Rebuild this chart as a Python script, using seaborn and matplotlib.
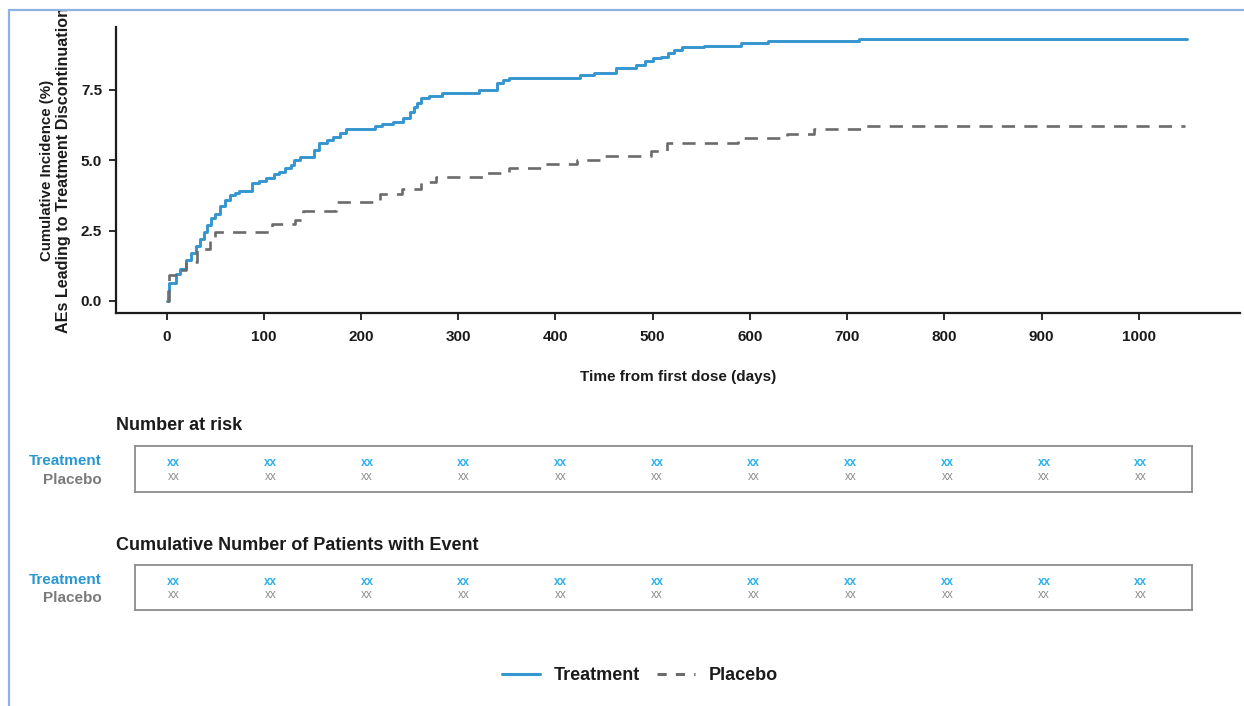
import numpy as np
import pandas as pd
import matplotlib
matplotlib.use("Agg")
import matplotlib.pyplot as plt
from matplotlib.lines import Line2D
from matplotlib.transforms import Bbox, TransformedBbox
import seaborn as sns

# ---------------- data ----------------
trt_days = [0, 1, 3, 10, 14, 20, 25, 30, 34, 38, 42, 46, 50, 55, 60, 65, 70, 74,
            88, 95, 102, 110, 116, 122, 128, 131, 137, 152, 157, 165, 171, 178,
            185, 214, 222, 233, 243, 250, 254, 258, 262, 270, 283, 293, 321, 340,
            346, 352, 425, 440, 462, 483, 492, 500, 509, 516, 522, 530, 553, 591,
            619, 712, 1049]
trt_cum = [0.00, 0.35, 0.63, 0.95, 1.15, 1.46, 1.70, 1.95, 2.20, 2.45, 2.70, 2.95,
           3.10, 3.38, 3.58, 3.75, 3.85, 3.91, 4.18, 4.25, 4.36, 4.50, 4.60, 4.72,
           4.85, 5.01, 5.13, 5.35, 5.60, 5.72, 5.84, 5.96, 6.10, 6.22, 6.30, 6.37,
           6.52, 6.70, 6.91, 7.05, 7.20, 7.30, 7.38, 7.41, 7.50, 7.74, 7.85, 7.92,
           8.03, 8.09, 8.29, 8.39, 8.54, 8.62, 8.69, 8.80, 8.92, 9.02, 9.08, 9.16,
           9.24, 9.30, 9.30]

pbo_days = [0, 2, 12, 20, 31, 45, 50, 108, 132, 140, 174, 220, 242, 262, 277, 330,
            352, 386, 422, 448, 498, 515, 588, 638, 666, 717, 1047]
pbo_cum = [0.00, 0.92, 1.10, 1.40, 1.84, 2.29, 2.44, 2.74, 2.88, 3.21, 3.51, 3.80,
           3.97, 4.24, 4.42, 4.56, 4.72, 4.87, 5.01, 5.17, 5.33, 5.60, 5.78, 5.94,
           6.10, 6.23, 6.23]

groups = ["Treatment", "Placebo"]
table_days = [0, 100, 200, 300, 400, 500, 600, 700, 800, 900, 1000]
risk_trt = ["xx", "xx", "xx", "xx", "xx", "xx", "xx", "xx", "xx", "xx", "xx"]
risk_pbo = ["xx", "xx", "xx", "xx", "xx", "xx", "xx", "xx", "xx", "xx", "xx"]
event_trt = ["xx", "xx", "xx", "xx", "xx", "xx", "xx", "xx", "xx", "xx", "xx"]
event_pbo = ["xx", "xx", "xx", "xx", "xx", "xx", "xx", "xx", "xx", "xx", "xx"]

x_ticks = [0, 100, 200, 300, 400, 500, 600, 700, 800, 900, 1000]
y_ticks = [0.0, 2.5, 5.0, 7.5]
y_tick_labels = ["0.0", "2.5", "5.0", "7.5"]
y_label_lines = ["Cumulative Incidence (%)", "AEs Leading to Treatment Discontinuation"]

# ---------------- styling ----------------
sns.set_style("ticks")
plt.rcParams["font.family"] = ["Liberation Sans", "DejaVu Sans"]

C_TRT = "#3595cf"
C_TRT_TXT = "#2a97d3"
C_TRT_XX = "#2cb0ee"
C_PBO = "#6b6b6b"
C_PBO_TXT = "#7a7a7a"
C_PBO_XX = "#8f8f8f"
C_TXT = "#1b1b1b"
PBO_DASH = (0, (5, 3.5))

W, H = 1244, 706
fig = plt.figure(figsize=(W / 100, H / 100), dpi=100)


def fx(px):
    return px / W


def fy(py):
    return 1 - py / H


# ---------------- main cumulative incidence plot ----------------
ax = fig.add_axes([fx(116), fy(313), fx(1240) - fx(116), fy(27) - fy(313)])

df_trt = pd.DataFrame({"day": trt_days, "cum": trt_cum})
df_pbo = pd.DataFrame({"day": pbo_days, "cum": pbo_cum})
sns.lineplot(data=df_trt, x="day", y="cum", ax=ax, color=C_TRT, lw=2.1,
             drawstyle="steps-post", estimator=None)
sns.lineplot(data=df_pbo, x="day", y="cum", ax=ax, color=C_PBO, lw=1.9,
             drawstyle="steps-post", estimator=None, linestyle=PBO_DASH)

ax.set_xlim(-52, 1104)
ax.set_ylim(-0.43, 9.74)
ax.set_xticks(x_ticks)
ax.set_xticklabels([str(t) for t in x_ticks])
ax.set_yticks(y_ticks)
ax.set_yticklabels(y_tick_labels)
for lab in ax.get_xticklabels() + ax.get_yticklabels():
    lab.set_fontweight("bold")
    lab.set_fontsize(11)
    lab.set_color(C_TXT)
ax.tick_params(axis="both", length=5, width=1.3, color="#1b1b1b", pad=5)
ax.tick_params(axis="x", pad=7)
for s in ["top", "right"]:
    ax.spines[s].set_visible(False)
for s in ["left", "bottom"]:
    ax.spines[s].set_linewidth(1.6)
    ax.spines[s].set_color("#1b1b1b")

ax.set_xlabel("Time from first dose (days)", fontsize=11, fontweight="bold",
              color=C_TXT, labelpad=19)
ax.set_ylabel("")

# y-axis title (two lines, cropped by the screenshot frame at the top)
clip = TransformedBbox(Bbox([[0, 0], [1, fy(11)]]), fig.transFigure)
for xc, txt, size in [(47, y_label_lines[0], 10.8), (63.5, y_label_lines[1], 11.6)]:
    t = fig.text(fx(xc), fy(170), txt, rotation=90, ha="center", va="center",
                 fontsize=size, fontweight="bold", color=C_TXT)
    t.set_clip_box(clip)
    t.set_clip_on(True)

# ---------------- risk tables ----------------
def risk_table(top_px, bot_px, title, title_py, trt_vals, pbo_vals, lab_trt_py, lab_pbo_py):
    tax = fig.add_axes([fx(135), fy(bot_px), fx(1192) - fx(135), fy(top_px) - fy(bot_px)])
    tax.set_xlim(-40, 1053)
    tax.set_ylim(0, 1)
    tax.set_xticks([])
    tax.set_yticks([])
    for s in tax.spines.values():
        s.set_visible(True)
        s.set_color("#8c8c8c")
        s.set_linewidth(1.3)
    h = bot_px - top_px
    y_t = (bot_px - (top_px + 0.38 * h)) / h
    y_p = (bot_px - (top_px + 0.67 * h)) / h
    for d, vt, vp in zip(table_days, trt_vals, pbo_vals):
        tax.text(d, y_t, vt, ha="center", va="center", fontsize=8.5,
                 color=C_TRT_XX, fontweight="bold")
        tax.text(d, y_p, vp, ha="center", va="center", fontsize=8.5,
                 color=C_PBO_XX)
    fig.text(fx(116), fy(title_py + 1), title, ha="left", va="center", fontsize=13,
             fontweight="bold", color=C_TXT)
    fig.text(fx(102), fy(lab_trt_py), groups[0], ha="right", va="center",
             fontsize=11, fontweight="bold", color=C_TRT_TXT)
    fig.text(fx(102), fy(lab_pbo_py), groups[1], ha="right", va="center",
             fontsize=11, fontweight="bold", color=C_PBO_TXT)
    return tax


risk_table(446, 492, "Number at risk", 424, risk_trt, risk_pbo, 461, 480)
risk_table(565, 610, "Cumulative Number of Patients with Event", 545,
           event_trt, event_pbo, 580, 598)

# ---------------- legend ----------------
handles = [Line2D([0], [0], color=C_TRT, lw=2.2),
           Line2D([0], [0], color=C_PBO, lw=2.2, linestyle=(0, (3, 3)))]
leg = fig.legend(handles, groups, loc="center", bbox_to_anchor=(fx(640), fy(676)),
                 ncol=2, frameon=False, handlelength=2.1, handletextpad=0.8,
                 columnspacing=0.9,
                 prop={"family": ["Liberation Sans"], "weight": "bold", "size": 13})
for t in leg.get_texts():
    t.set_color(C_TXT)

# ---------------- screenshot frame ----------------
frame_c = "#8db3e2"
fig.add_artist(Line2D([fx(9), 1.0], [fy(10), fy(10)], color=frame_c, lw=1.6))
fig.add_artist(Line2D([fx(9), fx(9)], [fy(10), 0.0], color=frame_c, lw=1.6))

fig.savefig("out.png", dpi=100)
